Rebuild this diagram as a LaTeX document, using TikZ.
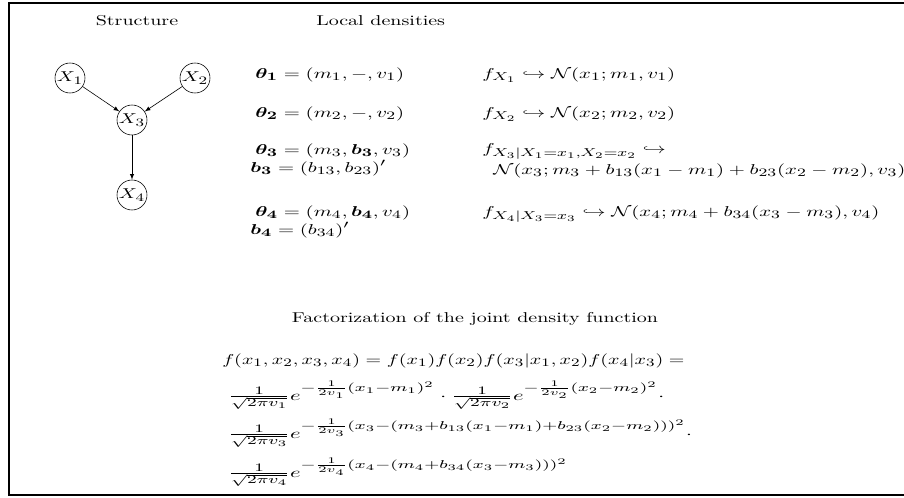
\RequirePackage{fix-cm}
\documentclass[tikz,border=0pt]{standalone}
\usepackage{amsmath,bm,graphicx}
\DeclareMathSizes{10}{10}{8}{6}
\newcommand{\wtext}[2][1.4]{\scalebox{#1}[1]{#2}}
\begin{document}
\begin{tikzpicture}[x=0.7pt,y=-0.7pt,>=latex,
  var/.style={draw, circle, minimum size=21pt, inner sep=0pt},
  lbl/.style={inner sep=0pt, anchor=base west}]
\useasboundingbox (0,0) rectangle (904,497);
\draw[line width=1.4pt] (904,3) -- (9,3) -- (9,495) -- (904,495);
\node[lbl, anchor=base] (st) at (137,25) {\wtext{Structure}};
\node[lbl] (ld) at (316,25) {\wtext{Local densities}};
% network
\node[var] (x1) at (70,78) {\wtext{$X_1$}};
\node[var] (x2) at (195,78) {\wtext{$X_2$}};
\node[var] (x3) at (132,120) {\wtext{$X_3$}};
\node[var] (x4) at (132,195) {\wtext{$X_4$}};
\draw[->] (x1) -- (x3);
\draw[->] (x2) -- (x3);
\draw[->] (x3) -- (x4);
% parameters
\node[lbl] (th1) at (255,78) {\wtext[1.45]{$\bm{\theta_1} = (m_1, -, v_1)$}};
\node[lbl] (th2) at (255,117) {\wtext[1.45]{$\bm{\theta_2} = (m_2, -, v_2)$}};
\node[lbl] (th3) at (255,154) {\wtext[1.45]{$\bm{\theta_3} = (m_3, \bm{b_3}, v_3)$}};
\node[lbl] (b3) at (250,172) {\wtext[1.45]{$\bm{b_3} = (b_{13}, b_{23})'$}};
\node[lbl] (th4) at (255,216) {\wtext[1.45]{$\bm{\theta_4} = (m_4, \bm{b_4}, v_4)$}};
\node[lbl] (b4) at (250,234) {\wtext[1.45]{$\bm{b_4} = (b_{34})'$}};
% densities
\node[lbl] (f1) at (482,78) {\wtext[1.45]{$f_{X_1} \hookrightarrow \mathcal{N}(x_1; m_1, v_1)$}};
\node[lbl] (f2) at (482,117) {\wtext[1.45]{$f_{X_2} \hookrightarrow \mathcal{N}(x_2; m_2, v_2)$}};
\node[lbl] (f3) at (482,153) {\wtext[1.45]{$f_{X_3|X_1=x_1,X_2=x_2} \hookrightarrow$}};
\node[lbl] (n3) at (493,174) {\wtext[1.45]{$\mathcal{N}(x_3; m_3 + b_{13}(x_1 - m_1) + b_{23}(x_2 - m_2), v_3)$}};
\node[lbl] (f4) at (482,216) {\wtext[1.45]{$f_{X_4|X_3=x_3} \hookrightarrow \mathcal{N}(x_4; m_4 + b_{34}(x_3 - m_3), v_4)$}};
% joint density
\node[lbl, anchor=base] (fac) at (475,322) {\wtext{Factorization of the joint density function}};
\node[lbl] (e1) at (222,364) {\wtext{$f(x_1, x_2, x_3, x_4) = f(x_1) f(x_2) f(x_3|x_1, x_2) f(x_4|x_3) =$}};
\node[lbl] (e2) at (228,400) {\wtext[1.59]{$\frac{1}{\sqrt{2\pi v_1}} e^{-\frac{1}{2v_1}(x_1-m_1)^2} \cdot \frac{1}{\sqrt{2\pi v_2}} e^{-\frac{1}{2v_2}(x_2-m_2)^2} \cdot$}};
\node[lbl] (e3) at (228,438) {\wtext[1.59]{$\frac{1}{\sqrt{2\pi v_3}} e^{-\frac{1}{2v_3}(x_3-(m_3+b_{13}(x_1-m_1)+b_{23}(x_2-m_2)))^2} \cdot$}};
\node[lbl] (e4) at (228,477) {\wtext[1.59]{$\frac{1}{\sqrt{2\pi v_4}} e^{-\frac{1}{2v_4}(x_4-(m_4+b_{34}(x_3-m_3)))^2}$}};
\end{tikzpicture}
\end{document}
